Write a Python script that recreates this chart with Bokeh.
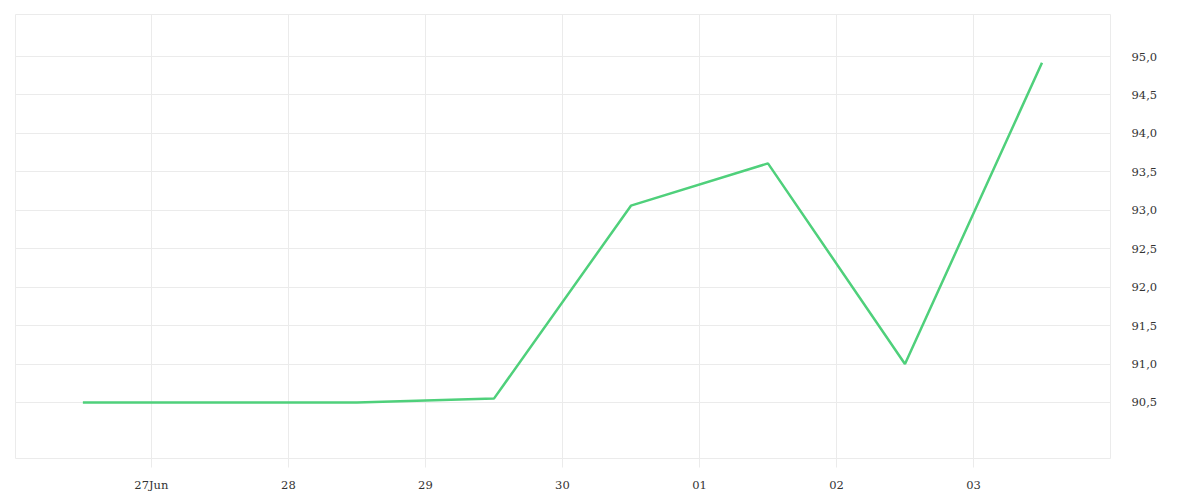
from datetime import datetime
from bokeh.plotting import figure
from bokeh.models import FixedTicker, Range1d
from bokeh.embed import file_html
from bokeh.resources import INLINE

dates = [datetime(2024, 6, 26, 12), datetime(2024, 6, 27, 12), datetime(2024, 6, 28, 12),
         datetime(2024, 6, 29, 12), datetime(2024, 6, 30, 12), datetime(2024, 7, 1, 12),
         datetime(2024, 7, 2, 12), datetime(2024, 7, 3, 12)]
values = [90.5, 90.5, 90.5, 90.55, 93.06, 93.61, 91.0, 94.92]

x_tick_dates = [datetime(2024, 6, 27), datetime(2024, 6, 28), datetime(2024, 6, 29),
                datetime(2024, 6, 30), datetime(2024, 7, 1), datetime(2024, 7, 2),
                datetime(2024, 7, 3)]
x_tick_labels = ["27Jun", "28", "29", "30", "01", "02", "03"]
y_ticks = [90.5, 91.0, 91.5, 92.0, 92.5, 93.0, 93.5, 94.0, 94.5, 95.0]
y_tick_labels = ["90,5", "91,0", "91,5", "92,0", "92,5", "93,0", "93,5", "94,0", "94,5", "95,0"]

def ms(d):
    return (d - datetime(1970, 1, 1)).total_seconds() * 1000.0

x_ticks = [ms(d) for d in x_tick_dates]

p = figure(output_backend="svg", toolbar_location=None, x_axis_type="datetime",
           frame_width=1095, frame_height=444,
           min_border_left=15, min_border_top=14, min_border_right=82, min_border_bottom=34,
           y_axis_location="right")
p.x_range = Range1d(ms(datetime(2024, 6, 26, 0, 12)), ms(datetime(2024, 7, 4, 0, 0)))
p.y_range = Range1d(89.771, 95.547)

p.line(dates, values, line_color="#4fd07b", line_width=2.5)

p.outline_line_color = "#ebebeb"
p.outline_line_width = 1

xa = p.xaxis[0]
xa.ticker = FixedTicker(ticks=x_ticks)
xa.major_label_overrides = {t: l for t, l in zip(x_ticks, x_tick_labels)}
xa.axis_line_color = None
xa.major_tick_line_color = "#ebebeb"
xa.major_tick_in = 0
xa.major_tick_out = 9
xa.minor_tick_line_color = None
xa.major_label_standoff = 10
xa.major_label_text_font = "DejaVu Serif"
xa.major_label_text_font_size = "11.5px"
xa.major_label_text_color = "#333333"

ya = p.yaxis[0]
ya.ticker = FixedTicker(ticks=y_ticks)
ya.major_label_overrides = {t: l for t, l in zip(y_ticks, y_tick_labels)}
ya.axis_line_color = None
ya.major_tick_line_color = None
ya.minor_tick_line_color = None
ya.major_label_standoff = 15
ya.major_label_text_font = "DejaVu Serif"
ya.major_label_text_font_size = "11.5px"
ya.major_label_text_color = "#333333"

p.xgrid.grid_line_color = "#ebebeb"
p.ygrid.grid_line_color = "#ebebeb"
p.xgrid.ticker = FixedTicker(ticks=x_ticks)
p.ygrid.ticker = FixedTicker(ticks=y_ticks)

open("out.html", "w").write(file_html(p, INLINE))
